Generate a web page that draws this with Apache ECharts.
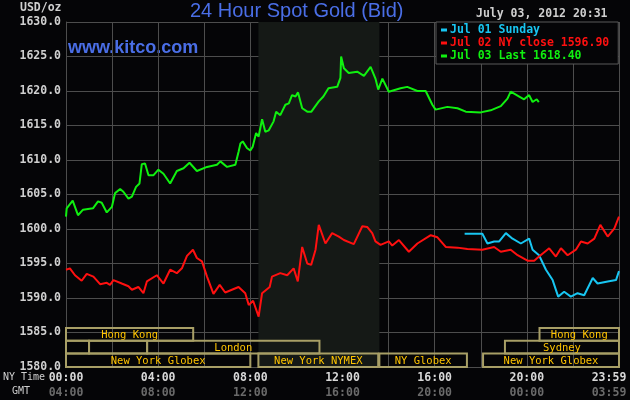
<!DOCTYPE html>
<html>
<head>
<meta charset="utf-8">
<script src="https://cdn.jsdelivr.net/npm/echarts@6/dist/echarts.min.js"></script>
<style>
  html, body { margin: 0; padding: 0; background: #050507; }
  #chart { width: 630px; height: 400px; }
</style>
</head>
<body>
<div id="chart"></div>
<script>
// hours since 00:00 NY time, prices in USD/oz
const jul01Hours = [17.30, 18.07, 18.29, 18.58, 18.80, 19.09, 19.38, 19.74, 20.10, 20.25, 20.53, 20.83, 21.12, 21.36, 21.62, 21.91, 22.20, 22.49, 22.86, 23.07, 23.51, 23.87, 24.0];
const jul01Prices = [1599.3, 1599.3, 1597.9, 1598.2, 1598.2, 1599.4, 1598.6, 1597.9, 1598.6, 1597.0, 1596.2, 1594.1, 1592.6, 1590.2, 1590.9, 1590.2, 1590.7, 1590.4, 1592.9, 1592.1, 1592.4, 1592.6, 1593.9];

const jul02Hours = [0.00, 0.17, 0.39, 0.68, 0.90, 1.19, 1.48, 1.77, 1.91, 2.06, 2.42, 2.71, 2.86, 3.14, 3.36, 3.51, 3.94, 4.23, 4.52, 4.81, 5.03, 5.25, 5.51, 5.68, 5.90, 6.12, 6.40, 6.67, 6.91, 7.20, 7.49, 7.78, 7.93, 8.12, 8.36, 8.51, 8.84, 8.94, 9.30, 9.60, 9.88, 10.06, 10.25, 10.47, 10.64, 10.83, 10.97, 11.26, 11.55, 11.84, 12.06, 12.49, 12.86, 13.07, 13.29, 13.43, 13.65, 14.01, 14.16, 14.45, 14.88, 15.25, 15.83, 16.12, 16.48, 16.99, 17.42, 18.07, 18.58, 18.87, 19.30, 19.60, 20.03, 20.32, 20.53, 20.97, 21.26, 21.48, 21.77, 22.13, 22.35, 22.64, 22.93, 23.19, 23.51, 23.80, 24.0];
const jul02Prices = [1594.1, 1594.3, 1593.3, 1592.5, 1593.5, 1593.1, 1592.0, 1592.2, 1591.9, 1592.6, 1592.1, 1591.7, 1591.2, 1591.6, 1590.7, 1592.4, 1593.3, 1592.1, 1594.1, 1593.6, 1594.3, 1596.1, 1597.0, 1595.8, 1595.3, 1593.1, 1590.6, 1591.9, 1590.8, 1591.2, 1591.6, 1590.7, 1589.0, 1589.6, 1587.3, 1590.7, 1591.6, 1593.1, 1593.6, 1593.3, 1594.3, 1592.4, 1597.4, 1595.0, 1594.8, 1597.0, 1600.6, 1597.9, 1599.4, 1598.9, 1598.4, 1597.8, 1600.4, 1600.3, 1599.4, 1598.2, 1597.7, 1598.2, 1597.6, 1598.4, 1596.7, 1597.9, 1599.1, 1598.8, 1597.4, 1597.3, 1597.1, 1597.0, 1597.4, 1596.7, 1597.0, 1596.2, 1595.4, 1595.4, 1596.0, 1597.2, 1596.0, 1597.2, 1596.2, 1597.0, 1598.2, 1597.9, 1598.6, 1600.6, 1598.9, 1600.1, 1601.8];

const jul03Hours = [0.00, 0.03, 0.29, 0.52, 0.74, 1.17, 1.39, 1.55, 1.77, 1.99, 2.13, 2.35, 2.49, 2.71, 2.86, 3.04, 3.19, 3.29, 3.43, 3.58, 3.80, 4.01, 4.23, 4.52, 4.81, 5.10, 5.36, 5.68, 6.12, 6.55, 6.70, 6.99, 7.35, 7.49, 7.57, 7.67, 7.86, 8.00, 8.10, 8.25, 8.36, 8.51, 8.65, 8.80, 9.01, 9.12, 9.30, 9.52, 9.67, 9.81, 9.96, 10.07, 10.25, 10.47, 10.65, 10.97, 11.17, 11.39, 11.77, 11.91, 11.94, 12.06, 12.27, 12.64, 12.93, 13.22, 13.43, 13.55, 13.73, 14.01, 14.52, 14.81, 15.25, 15.61, 15.90, 16.04, 16.55, 16.99, 17.35, 18.00, 18.43, 18.87, 19.16, 19.30, 19.67, 19.88, 20.10, 20.25, 20.43, 20.52];
const jul03Prices = [1601.8, 1603.0, 1604.1, 1602.0, 1602.8, 1603.0, 1604.0, 1603.8, 1602.4, 1603.2, 1605.2, 1605.8, 1605.4, 1604.4, 1604.7, 1606.1, 1606.6, 1609.4, 1609.5, 1607.8, 1607.8, 1608.6, 1608.0, 1606.6, 1608.4, 1608.8, 1609.6, 1608.4, 1609.0, 1609.3, 1609.8, 1609.0, 1609.3, 1611.2, 1612.4, 1612.7, 1611.7, 1611.4, 1611.9, 1613.9, 1613.4, 1615.9, 1614.1, 1614.3, 1615.6, 1617.0, 1616.5, 1618.0, 1618.2, 1619.4, 1619.2, 1619.8, 1617.5, 1617.0, 1617.0, 1618.5, 1619.2, 1620.4, 1620.6, 1621.9, 1625.0, 1623.3, 1622.6, 1622.8, 1622.2, 1623.5, 1621.8, 1620.2, 1621.8, 1619.9, 1620.4, 1620.6, 1620.0, 1620.0, 1618.0, 1617.3, 1617.7, 1617.5, 1617.0, 1616.9, 1617.2, 1617.8, 1618.9, 1619.9, 1619.2, 1618.8, 1619.4, 1618.4, 1618.8, 1618.4];

const seriesNames = ['Jul 01 Sunday', 'Jul 02 NY close 1596.90', 'Jul 03 Last 1618.40'];
const seriesColors = ['#18c6f2', '#ff1010', '#10f010'];

const nyTicks = ['00:00', '04:00', '08:00', '12:00', '16:00', '20:00', '23:59'];
const gmtTicks = ['04:00', '08:00', '12:00', '16:00', '20:00', '00:00', '03:59'];

// trading sessions drawn along the bottom of the plot (row 0 = lowest)
const sessionNames = ['Hong Kong', '', '', 'London', 'New York Globex', 'New York NYMEX', 'NY Globex', 'New York Globex', 'Sydney', 'Hong Kong'];
const sessionStart = [0, 0, 1.0, 3.52, 0, 8.35, 13.6, 18.1, 19.05, 20.55];
const sessionEnd = [5.52, 1.0, 3.52, 11.0, 8.0, 13.55, 17.4, 24, 24, 24];
const sessionRow = [2, 1, 1, 1, 0, 0, 0, 0, 1, 2];

const pitStart = 8.35;
const pitEnd = 13.6;

const mono = '"DejaVu Sans Mono", monospace';
const rowEdges = [1580, 1581.97, 1583.8, 1585.65];

const chart = echarts.init(document.getElementById('chart'));

const zip = (xs, ys) => xs.map((x, i) => [x, ys[i]]);

function tickLabel(value) {
  if (value % 4 !== 0 && value !== 24) return '';
  const i = value === 24 ? 6 : value / 4;
  if (value === 24) return '{nyEnd|' + nyTicks[i] + '}\n{gmtEnd|' + gmtTicks[i] + '}';
  return '{ny|' + nyTicks[i] + '}\n{gmt|' + gmtTicks[i] + '}';
}

const lineSeries = [
  [jul01Hours, jul01Prices],
  [jul02Hours, jul02Prices],
  [jul03Hours, jul03Prices],
].map(([xs, ys], i) => ({
  name: seriesNames[i],
  type: 'line',
  data: zip(xs, ys),
  showSymbol: false,
  symbol: 'none',
  color: seriesColors[i],
  lineStyle: { width: 2, color: seriesColors[i] },
  z: 3 + i,
}));

chart.setOption({
  backgroundColor: '#050507',
  animation: false,
  title: {
    text: '24 Hour Spot Gold (Bid)',
    left: 190,
    top: 1,
    padding: 0,
    textStyle: { color: '#4a6ee6', fontSize: 20, fontWeight: 'normal', fontFamily: '"Liberation Sans", Arial, sans-serif' },
  },
  graphic: [
    { type: 'text', left: 68, top: 39, style: { text: 'www.kitco.com', fill: '#4a6ee6', font: 'bold 18px "Liberation Sans", Arial, sans-serif' } },
    { type: 'text', left: 476, top: 8, style: { text: 'July 03, 2012 20:31', fill: '#cfcfcf', font: 'bold 11.5px ' + mono } },
    { type: 'text', left: 20, top: 2, style: { text: 'USD/oz', fill: '#cfcfcf', font: 'bold 11.5px ' + mono } },
    { type: 'text', left: 3, top: 372, style: { text: 'NY Time', fill: '#cfcfcf', font: '10px ' + mono } },
    { type: 'text', left: 12, top: 386, style: { text: 'GMT', fill: '#cfcfcf', font: '10px ' + mono } },
  ],
  legend: {
    orient: 'vertical',
    left: 436,
    top: 22,
    padding: [2, 9, 2, 5],
    itemGap: 1,
    itemWidth: 6,
    itemHeight: 3,
    icon: 'rect',
    backgroundColor: '#050507',
    borderColor: '#5a5a5a',
    borderWidth: 1,
    textStyle: { fontFamily: mono, fontSize: 11.5, fontWeight: 'bold', lineHeight: 12, padding: [0, 0, 0, -2] },
    data: seriesNames.map((name, i) => ({ name, textStyle: { color: seriesColors[i] } })),
  },
  grid: { left: 66, right: 11, top: 22, bottom: 33, containLabel: false, outerBoundsMode: 'none' },
  xAxis: {
    type: 'value',
    min: 0,
    max: 24,
    interval: 2,
    axisLine: { show: true, lineStyle: { color: '#4d4d4d' } },
    axisTick: { show: false },
    splitLine: { show: true, lineStyle: { color: '#4d4d4d', width: 1 } },
    axisLabel: {
      margin: 4,
      showMaxLabel: true,
      showMinLabel: true,
      formatter: tickLabel,
      rich: {
        ny: { color: '#d8d8d8', fontFamily: mono, fontSize: 11.5, fontWeight: 'bold', lineHeight: 15 },
        gmt: { color: '#6a6a6a', fontFamily: mono, fontSize: 11.5, fontWeight: 'bold', lineHeight: 15 },
        nyEnd: { color: '#d8d8d8', fontFamily: mono, fontSize: 11.5, fontWeight: 'bold', lineHeight: 15, padding: [0, 20, 0, 0] },
        gmtEnd: { color: '#6a6a6a', fontFamily: mono, fontSize: 11.5, fontWeight: 'bold', lineHeight: 15, padding: [0, 20, 0, 0] },
      },
    },
  },
  yAxis: {
    type: 'value',
    min: 1580,
    max: 1630,
    interval: 5,
    axisLine: { show: true, lineStyle: { color: '#4d4d4d' } },
    axisTick: { show: false },
    splitLine: { show: true, lineStyle: { color: '#4d4d4d', width: 1 } },
    axisLabel: {
      margin: 5,
      color: '#d0d0d0',
      fontFamily: mono,
      fontSize: 11.5,
      fontWeight: 'bold',
      formatter: (v) => v.toFixed(1),
    },
  },
  series: [
    {
      name: 'pit',
      type: 'line',
      data: [],
      z: -1,
      silent: true,
      markArea: {
        silent: true,
        itemStyle: { color: '#151916' },
        data: [[{ xAxis: pitStart }, { xAxis: pitEnd }]],
      },
    },
    {
      name: 'sessions',
      type: 'custom',
      silent: true,
      clip: false,
      z: 2,
      data: sessionStart.map((s, i) => [s, sessionEnd[i], sessionRow[i]]),
      encode: { x: [0, 1] },
      renderItem(params, api) {
        const r = api.value(2);
        const p0 = api.coord([api.value(0), rowEdges[r + 1]]);
        const p1 = api.coord([api.value(1), rowEdges[r]]);
        return {
          type: 'group',
          children: [
            {
              type: 'rect',
              shape: { x: p0[0], y: p0[1], width: p1[0] - p0[0], height: p1[1] - p0[1] },
              style: { fill: 'none', stroke: '#a89f66', lineWidth: 2 },
            },
            {
              type: 'text',
              style: {
                text: sessionNames[params.dataIndex],
                x: (p0[0] + p1[0]) / 2,
                y: (p0[1] + p1[1]) / 2 + 1,
                align: 'center',
                verticalAlign: 'middle',
                fill: '#ffc400',
                font: '10.5px ' + mono,
              },
            },
          ],
        };
      },
    },
    ...lineSeries,
  ],
});
</script>
</body>
</html>
